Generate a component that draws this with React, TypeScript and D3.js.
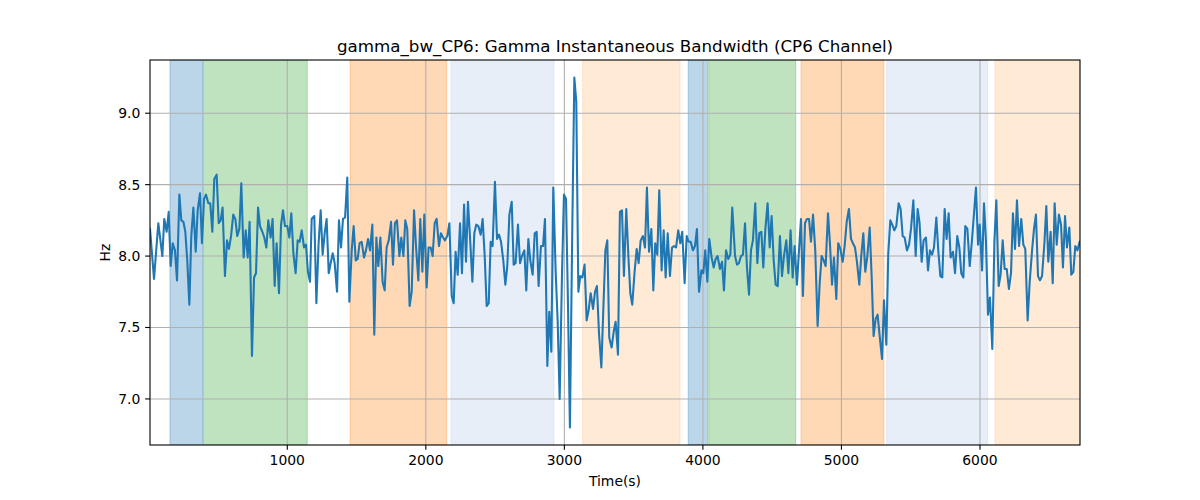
import React, { useEffect } from "react";
import * as d3 from "d3";

const TITLE = "gamma_bw_CP6: Gamma Instantaneous Bandwidth (CP6 Channel)";
const X_LABEL = "Time(s)";
const Y_LABEL = "Hz";

const xTicks = [1000, 2000, 3000, 4000, 5000, 6000];
const yTicks = [7.0, 7.5, 8.0, 8.5, 9.0];
const xDomain = [9, 6722];

const bandStarts = [153, 394, 1453, 2181, 3132, 3894, 4042, 4708, 5327, 6108];
const bandEnds = [389, 1144, 2151, 2925, 3835, 4034, 4670, 5307, 6056, 6722];
const bandColors = ["#1f77b4", "#2ca02c", "#ff7f0e", "#aec7e8", "#ffbb78", "#1f77b4", "#2ca02c", "#ff7f0e", "#aec7e8", "#ffbb78"];

const times = [
  9, 38, 69, 98, 112, 129, 144, 158, 173, 189, 204, 221, 235, 250, 264, 278, 293, 307, 322, 339,
  353, 370, 384, 399, 413, 430, 444, 459, 473, 490, 505, 519, 533, 550, 565, 579, 594, 610, 625, 639,
  654, 668, 685, 700, 714, 728, 745, 760, 774, 789, 803, 820, 834, 849, 863, 880, 894, 909, 923, 940,
  955, 969, 983, 1000, 1015, 1029, 1044, 1060, 1075, 1089, 1104, 1121, 1135, 1149, 1164,
  1176, 1195, 1210, 1226, 1241, 1255, 1270, 1284, 1299, 1313, 1328, 1342, 1359, 1373, 1388, 1402, 1417, 1433, 1448, 1465,
  1479, 1494, 1508, 1522, 1537, 1554, 1568, 1583, 1597, 1614, 1628, 1643, 1657, 1672, 1688, 1703, 1717, 1732, 1749, 1763,
  1777, 1792, 1809, 1823, 1838, 1852, 1866, 1883, 1898, 1915, 1929, 1946, 1960, 1975, 1989, 2006, 2020, 2035, 2049, 2064,
  2078, 2095, 2109, 2124, 2138, 2155, 2170, 2187, 2201, 2215, 2230, 2247,
  2261, 2276, 2290, 2304, 2319, 2336, 2350, 2364, 2379, 2396, 2410, 2425, 2439, 2454, 2468, 2482, 2499, 2514, 2528, 2543,
  2559, 2574, 2588, 2603, 2620, 2634, 2648, 2665, 2680, 2694, 2711, 2725, 2740, 2754, 2771, 2786, 2800, 2814, 2831, 2846,
  2860, 2877, 2891, 2906, 2920, 2937, 2952, 2966, 2983, 2997, 3012, 3026, 3040, 3057, 3072, 3086, 3101, 3115, 3130, 3146,
  3161, 3175, 3190, 3207, 3221, 3235, 3250, 3267, 3281, 3296, 3310, 3324, 3341, 3356, 3370, 3387, 3401,
  3416, 3430, 3447, 3462, 3476, 3490, 3507, 3522, 3536, 3551, 3567, 3582, 3596, 3611, 3628, 3642, 3656, 3671, 3685, 3702,
  3717, 3731, 3746, 3762, 3777, 3791, 3806, 3822, 3837, 3851, 3868, 3883, 3897, 3912, 3928, 3943, 3957, 3972, 3989, 4003,
  4017, 4032, 4046, 4063, 4078, 4092, 4106, 4123, 4138, 4152, 4167, 4183, 4198, 4212,
  4232, 4246, 4260, 4275, 4289, 4304, 4318, 4333, 4347, 4361, 4378, 4393, 4407, 4422, 4436, 4451, 4467, 4482, 4496, 4511,
  4525, 4540, 4556, 4571, 4585, 4602, 4617, 4633, 4648, 4662, 4679, 4693, 4708, 4722, 4737, 4751, 4766, 4780, 4795, 4811,
  4828, 4843, 4857, 4872, 4886, 4903, 4917, 4932, 4946, 4963, 4977, 4992, 5009, 5023, 5038, 5054, 5069, 5083,
  5098, 5112, 5129, 5143, 5158, 5172, 5187, 5204, 5218, 5232, 5247, 5261, 5276, 5293, 5307, 5324, 5338, 5353, 5367, 5382,
  5396, 5413, 5427, 5442, 5456, 5473, 5488, 5502, 5519, 5536, 5550, 5564, 5579, 5593, 5610, 5625, 5639, 5654, 5668, 5685,
  5699, 5714, 5728, 5745, 5759, 5774, 5788, 5805, 5820, 5836, 5851, 5865, 5880, 5894, 5909,
  5926, 5942, 5957, 5971, 5986, 5998, 6015, 6029, 6043, 6058, 6072, 6089, 6104, 6118, 6135, 6149, 6164, 6178, 6193, 6209,
  6224, 6238, 6253, 6267, 6282, 6298, 6313, 6327, 6344, 6359, 6376, 6390, 6404, 6419, 6433, 6448, 6465, 6479, 6493, 6510,
  6525, 6539, 6554, 6570, 6585, 6599, 6614, 6628, 6645, 6659, 6674, 6688, 6703, 6720,
];

const values = [
  8.19, 7.84, 8.23, 8.0, 8.26, 8.17, 8.31, 7.93, 8.09, 8.04, 7.83, 8.43, 8.25, 8.24, 8.17, 7.97, 7.66, 8.14, 8.34, 8.03,
  8.32, 8.44, 8.09, 8.4, 8.43, 8.37, 8.37, 8.17, 8.54, 8.57, 8.23, 8.25, 8.34, 7.86, 8.11, 8.05, 8.14, 8.29, 8.26, 8.14,
  8.19, 8.51, 7.99, 8.18, 7.99, 8.24, 7.3, 7.85, 7.88, 8.34, 8.21, 8.17, 8.13, 8.06, 8.25, 8.13, 8.26, 7.79, 8.09, 7.74,
  8.22, 8.32, 8.21, 8.21, 8.13, 8.3, 8.02, 7.88, 8.11, 8.1, 8.18, 8.06, 8.08, 7.89, 7.82,
  8.26, 8.28, 7.67, 8.09, 8.32, 8.01, 8.16, 8.26, 7.88, 7.95, 8.02, 7.95, 7.75, 8.25, 8.06, 8.26, 8.27, 8.55, 7.68, 8.04,
  8.21, 7.97, 7.98, 8.09, 8.1, 7.99, 8.04, 8.12, 8.04, 8.22, 7.45, 8.13, 7.93, 8.13, 7.82, 7.76, 8.06, 8.11, 8.24, 7.94,
  8.23, 8.25, 8.0, 8.13, 8.0, 8.25, 8.19, 7.65, 7.75, 8.32, 8.07, 7.83, 8.26, 7.89, 8.29, 7.78, 8.06, 8.06, 8.0, 8.23,
  8.26, 8.07, 8.16, 8.13, 8.11, 8.14, 8.23, 7.72, 7.67, 8.03, 7.87, 8.23,
  7.88, 8.36, 7.96, 8.38, 8.13, 7.82, 8.16, 8.22, 8.21, 8.15, 8.26, 8.0, 7.65, 7.67, 8.1, 8.07, 8.52, 8.12, 8.15, 8.1,
  7.97, 7.8, 7.93, 8.29, 8.38, 7.94, 7.95, 8.22, 7.95, 8.0, 8.04, 7.76, 8.12, 7.97, 7.87, 8.16, 8.17, 7.79, 8.07, 8.07,
  8.26, 7.23, 7.61, 7.33, 8.48, 7.9, 7.53, 7.0, 7.88, 8.43, 8.4, 7.67, 6.8, 8.18, 9.25, 9.08, 7.75, 7.86, 7.85, 7.94,
  7.55, 7.62, 7.74, 7.63, 7.75, 7.79, 7.46, 7.22, 7.62, 8.04, 8.11, 7.43, 7.36, 7.47, 7.54, 7.31, 8.31,
  8.32, 7.86, 8.33, 8.0, 7.74, 7.66, 7.89, 8.05, 7.95, 8.11, 8.14, 8.06, 8.48, 8.03, 8.19, 7.76, 8.09, 8.01, 8.46, 7.9,
  8.18, 7.85, 8.16, 7.86, 8.06, 8.07, 8.06, 8.18, 8.09, 8.17, 7.81, 8.14, 8.1, 8.1, 8.04, 8.07, 8.19, 7.75, 7.9, 7.88,
  8.04, 7.82, 8.12, 7.99, 7.92, 7.98, 8.0, 7.91, 7.96, 7.76, 8.04, 7.98, 8.01, 8.34,
  8.0, 7.94, 7.95, 8.0, 8.01, 8.23, 7.92, 7.73, 8.04, 8.11, 8.37, 7.95, 8.16, 8.17, 7.92, 8.19, 8.37, 8.06, 8.28, 7.97,
  7.8, 7.79, 8.14, 7.86, 8.0, 8.11, 7.88, 8.18, 7.85, 8.07, 7.8, 8.03, 8.26, 7.72, 8.23, 8.26, 8.26, 8.1, 8.29, 8.04,
  7.51, 7.81, 8.0, 7.97, 7.93, 8.3, 8.09, 7.8, 7.99, 7.7, 8.09, 8.05, 7.96, 8.07, 8.24, 8.33, 8.12, 8.09,
  8.06, 7.96, 7.8, 8.0, 8.16, 7.89, 8.0, 8.2, 7.86, 7.44, 7.56, 7.59, 7.44, 7.28, 7.69, 7.38, 8.02, 8.25, 8.22, 8.18,
  8.21, 8.37, 8.33, 8.14, 8.13, 8.04, 8.08, 8.19, 8.39, 8.0, 8.33, 8.23, 7.96, 8.11, 8.13, 7.9, 8.04, 8.01, 8.06, 8.27,
  8.04, 7.86, 7.85, 8.33, 8.12, 8.3, 7.99, 8.03, 7.88, 8.14, 8.06, 7.88, 7.85, 8.21, 8.19,
  7.93, 8.11, 8.3, 8.48, 8.08, 8.22, 7.9, 8.37, 8.11, 7.59, 7.71, 7.35, 8.1, 8.39, 7.79, 7.87, 8.11, 7.91, 7.91, 7.77,
  7.88, 8.3, 8.05, 8.39, 8.07, 8.26, 8.08, 8.05, 7.55, 7.82, 8.04, 8.19, 8.29, 7.86, 7.83, 7.86, 8.09, 8.35, 7.96, 8.17,
  7.81, 8.37, 8.08, 8.29, 8.22, 7.92, 8.28, 8.06, 8.2, 7.87, 7.89, 8.07, 8.04, 8.1,
];

const W = 1200;
const H = 500;
const M = { left: 150, right: 1080, top: 60, bottom: 445 };
const FONT = "DejaVu Sans, sans-serif";

export default function App() {
  useEffect(() => {
    document.body.style.margin = "0";
  }, []);

  const [vmin, vmax] = d3.extent(values) as [number, number];
  const pad = (vmax - vmin) * 0.05;
  const x = d3.scaleLinear().domain(xDomain).range([M.left, M.right]);
  const y = d3.scaleLinear().domain([vmin - pad, vmax + pad]).range([M.bottom, M.top]);

  const pts = times.map((t, i) => [t, values[i]] as [number, number]);
  const line = d3
    .line<[number, number]>()
    .x((d) => x(d[0]))
    .y((d) => y(d[1]));

  const tickLen = 4.86;
  const gridColor = "#b0b0b0";

  return (
    <svg width={W} height={H} style={{ display: "block", background: "#fff" }} fontFamily={FONT}>
      <rect x={0} y={0} width={W} height={H} fill="#fff" />
      <defs>
        <clipPath id="plot">
          <rect x={M.left} y={M.top} width={M.right - M.left} height={M.bottom - M.top} />
        </clipPath>
      </defs>
      <g clipPath="url(#plot)">
        {bandStarts.map((s, i) => (
          <rect
            key={i}
            x={x(s)}
            y={M.top}
            width={x(bandEnds[i]) - x(s)}
            height={M.bottom - M.top}
            fill={bandColors[i]}
            fillOpacity={0.3}
            stroke={bandColors[i]}
            strokeOpacity={0.3}
            strokeWidth={1}
          />
        ))}
        {xTicks.map((t) => (
          <line key={"gx" + t} x1={x(t)} x2={x(t)} y1={M.top} y2={M.bottom} stroke={gridColor} strokeWidth={1.1} />
        ))}
        {yTicks.map((t) => (
          <line key={"gy" + t} x1={M.left} x2={M.right} y1={y(t)} y2={y(t)} stroke={gridColor} strokeWidth={1.1} />
        ))}
        <path d={line(pts) || ""} fill="none" stroke="#1f77b4" strokeWidth={2.08} strokeLinejoin="round" strokeLinecap="square" />
      </g>
      <rect
        x={M.left}
        y={M.top}
        width={M.right - M.left}
        height={M.bottom - M.top}
        fill="none"
        stroke="#000"
        strokeWidth={1.1}
      />
      {xTicks.map((t) => (
        <g key={"xt" + t}>
          <line x1={x(t)} x2={x(t)} y1={M.bottom} y2={M.bottom + tickLen} stroke="#000" strokeWidth={1.1} />
          <text x={x(t)} y={M.bottom + tickLen + 4.86} dy="0.76em" textAnchor="middle" fontSize={13.9} fill="#000">
            {t}
          </text>
        </g>
      ))}
      {yTicks.map((t) => (
        <g key={"yt" + t}>
          <line x1={M.left - tickLen} x2={M.left} y1={y(t)} y2={y(t)} stroke="#000" strokeWidth={1.1} />
          <text x={M.left - tickLen - 4.86} y={y(t)} dy="0.35em" textAnchor="end" fontSize={13.9} fill="#000">
            {t.toFixed(1)}
          </text>
        </g>
      ))}
      <text x={(M.left + M.right) / 2} y={486} textAnchor="middle" fontSize={13.9} fill="#000">
        {X_LABEL}
      </text>
      <text
        transform={`translate(${110},${(M.top + M.bottom) / 2}) rotate(-90)`}
        textAnchor="middle"
        fontSize={13.9}
        fill="#000"
      >
        {Y_LABEL}
      </text>
      <text x={(M.left + M.right) / 2} y={52} textAnchor="middle" fontSize={16.7} fill="#000">
        {TITLE}
      </text>
    </svg>
  );
}
